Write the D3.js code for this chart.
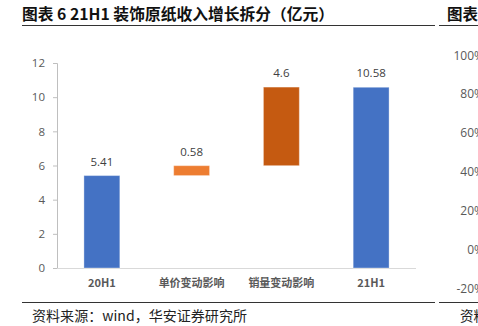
<!DOCTYPE html>
<html><head><meta charset="utf-8">
<script src="https://cdn.jsdelivr.net/npm/d3@7"></script>
<style>
html,body{margin:0;padding:0;background:#fff;}
svg{display:block;}
</style></head>
<body>
<svg id="c" width="478" height="326"></svg>
<script>
const categories = ["20H1", "单价变动影响", "销量变动影响", "21H1"];
const values = [5.41, 0.58, 4.6, 10.58];
const kinds = ["total", "delta", "delta", "total"];
const barColors = ["#4472C4", "#ED7D31", "#C55A11", "#4472C4"];
const valueLabels = ["5.41", "0.58", "4.6", "10.58"];
const yTicks = [0, 2, 4, 6, 8, 10, 12];
const rightTicks = ["100%", "80%", "60%", "40%", "20%", "0%", "-20%"];
const title = "图表 6 21H1 装饰原纸收入增长拆分（亿元）";
const source = "资料来源：wind，华安证券研究所";

const svg = d3.select("#c");
const CJK = "'Noto Sans CJK SC','Noto Sans',sans-serif";
const SERIF = "'Noto Serif CJK SC','Noto Sans CJK SC',serif";

// header
svg.append("text").attr("x", 22).attr("y", 20).attr("font-family", CJK).attr("font-weight", "bold")
  .attr("font-size", 15.5).attr("fill", "#111").attr("textLength", 312).attr("lengthAdjust", "spacingAndGlyphs").text(title);
svg.append("text").attr("x", 447).attr("y", 20).attr("font-family", CJK).attr("font-weight", "bold")
  .attr("font-size", 15.5).attr("fill", "#111").text("图表");
svg.append("line").attr("x1", 22).attr("x2", 435).attr("y1", 25.5).attr("y2", 25.5).attr("stroke", "#333").attr("stroke-width", 1.2);
svg.append("line").attr("x1", 439).attr("x2", 478).attr("y1", 25.5).attr("y2", 25.5).attr("stroke", "#333").attr("stroke-width", 1.2);
svg.append("line").attr("x1", 22).attr("x2", 435).attr("y1", 302.5).attr("y2", 302.5).attr("stroke", "#333").attr("stroke-width", 1.2);
svg.append("line").attr("x1", 439).attr("x2", 478).attr("y1", 302.5).attr("y2", 302.5).attr("stroke", "#333").attr("stroke-width", 1.2);
svg.append("text").attr("x", 32).attr("y", 321).attr("font-family", CJK).attr("font-size", 13.5)
  .attr("fill", "#222").attr("textLength", 215).attr("lengthAdjust", "spacingAndGlyphs").text(source);
svg.append("text").attr("x", 460).attr("y", 321).attr("font-family", CJK).attr("font-size", 13.5).attr("fill", "#222").text("资料");

// main chart
const x = d3.scaleBand().domain(categories).range([57, 416]).paddingInner(0.6).paddingOuter(0.3);
const y = d3.scaleLinear().domain([0, 12]).range([268, 63]);

// compute waterfall bases
let running = 0;
const bars = categories.map((c, i) => {
  let lo, hi;
  if (kinds[i] === "total") { lo = 0; hi = values[i]; running = values[i]; }
  else { lo = running; hi = running + values[i]; running = hi; }
  return {c, lo, hi, color: barColors[i], label: valueLabels[i]};
});

// y axis
const yAxis = svg.append("g").attr("transform", "translate(57,0)")
  .call(d3.axisLeft(y).tickValues(yTicks).tickSize(4).tickPadding(8));
yAxis.select(".domain").attr("stroke", "#bfbfbf");
yAxis.selectAll(".tick line").attr("stroke", "#bfbfbf");
yAxis.selectAll(".tick text").attr("font-family", "'Open Sans',sans-serif").attr("font-size", 11.5).attr("fill", "#595959");

// x axis
const xAxis = svg.append("g").attr("transform", "translate(0,268)")
  .call(d3.axisBottom(x).tickSize(0).tickPadding(11));
xAxis.select(".domain").attr("stroke", "#d9d9d9").attr("d", "M57,0.5H416");
xAxis.selectAll(".tick text").attr("font-family", CJK).attr("font-weight", "bold").attr("font-size", 11).attr("fill", "#595959");

// bars
svg.append("g").selectAll("rect").data(bars).join("rect")
  .attr("x", d => x(d.c)).attr("width", x.bandwidth())
  .attr("y", d => y(d.hi)).attr("height", d => y(d.lo) - y(d.hi))
  .attr("fill", d => d.color).attr("stroke", "rgba(255,255,255,0.35)").attr("stroke-width", 1);

svg.append("g").selectAll("text").data(bars).join("text")
  .attr("x", d => x(d.c) + x.bandwidth() / 2).attr("y", d => y(d.hi) - 10)
  .attr("text-anchor", "middle").attr("font-family", "'Open Sans',sans-serif").attr("font-size", 11.5).attr("fill", "#404040")
  .text(d => d.label);

// right panel axis (partially visible)
const yR = d3.scaleBand().domain(rightTicks).range([36, 308]);
svg.append("g").selectAll("text").data(rightTicks).join("text")
  .attr("x", 484).attr("y", d => yR(d) + yR.bandwidth() / 2).attr("dy", "0.35em")
  .attr("text-anchor", "end").attr("font-family", "'Open Sans',sans-serif").attr("font-size", 12).attr("fill", "#595959")
  .text(d => d);
</script>
</body></html>
